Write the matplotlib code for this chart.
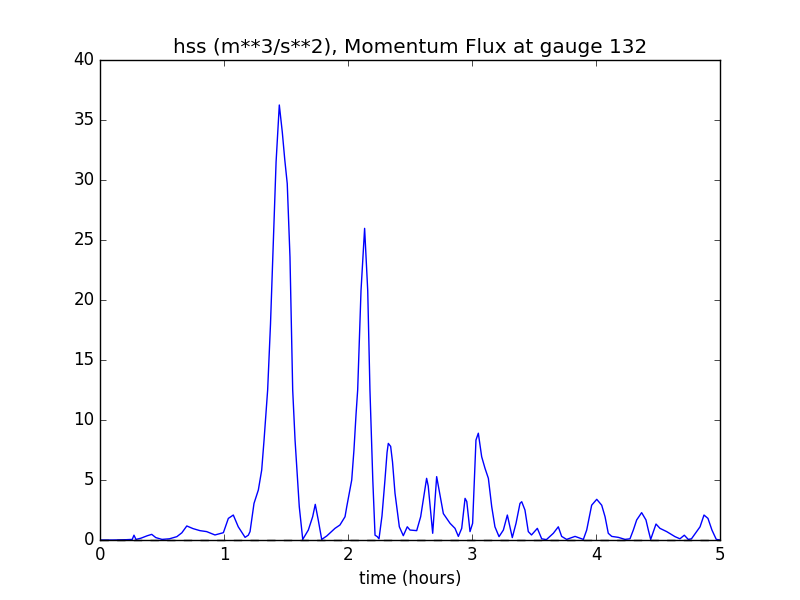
# Momentum flux at gauge 132 (hss), over time

import matplotlib
matplotlib.use('Agg')
import matplotlib.pyplot as plt

# time in hours
zeit = [0.0, 0.1, 0.2, 0.26, 0.274, 0.29, 0.33, 0.38, 0.417, 0.45, 0.5, 0.56, 0.62,
        0.66, 0.70, 0.75, 0.806, 0.86, 0.927, 0.995, 1.035, 1.075, 1.115, 1.17,
        1.196, 1.21, 1.242, 1.277, 1.304, 1.323, 1.352, 1.375, 1.398, 1.42, 1.446,
        1.47, 1.49, 1.51, 1.532, 1.554, 1.573, 1.607, 1.635, 1.68, 1.715, 1.736,
        1.76, 1.788, 1.828, 1.895, 1.935, 1.976, 1.99, 2.03, 2.048, 2.065, 2.078,
        2.105, 2.134, 2.159, 2.177, 2.2, 2.218, 2.236, 2.25, 2.274, 2.298, 2.315,
        2.325, 2.344, 2.359, 2.379, 2.414, 2.446, 2.478, 2.5, 2.554, 2.586, 2.634,
        2.647, 2.683, 2.715, 2.742, 2.769, 2.823, 2.863, 2.89, 2.917, 2.944, 2.958,
        2.984, 3.005, 3.032, 3.051, 3.078, 3.105, 3.132, 3.159, 3.185, 3.218,
        3.253, 3.285, 3.306, 3.325, 3.355, 3.387, 3.401, 3.427, 3.454, 3.48,
        3.527, 3.562, 3.6, 3.656, 3.696, 3.723, 3.763, 3.831, 3.898, 3.925,
        3.946, 3.965, 4.006, 4.046, 4.073, 4.099, 4.127, 4.18, 4.234, 4.274, 4.301,
        4.328, 4.368, 4.403, 4.422, 4.441, 4.484, 4.516, 4.57, 4.637, 4.677,
        4.712, 4.744, 4.77, 4.839, 4.871, 4.903, 4.935, 4.97, 5.0]

# hss (m**3/s**2)
hss = [0.0, 0.0, 0.02, 0.05, 0.4, 0.05, 0.15, 0.35, 0.47, 0.2, 0.05, 0.1, 0.28,
       0.6, 1.17, 0.95, 0.78, 0.7, 0.42, 0.61, 1.8, 2.08, 1.1, 0.22,
       0.4, 0.7, 3.05, 4.17, 5.83, 8.33, 12.5, 18.0, 25.0, 31.5, 36.25,
       34.0, 31.7, 29.7, 23.6, 12.5, 8.33, 2.78, 0.05, 0.83, 1.94, 2.97,
       1.67, 0.05, 0.33, 0.97, 1.25, 1.94, 2.78, 5.0, 7.5, 10.5, 12.5,
       20.8, 25.97, 20.8, 12.5, 5.0, 0.4, 0.28, 0.1, 2.0, 5.0, 7.3,
       8.05, 7.8, 6.5, 3.9, 1.1, 0.36, 1.1, 0.83, 0.78, 1.94, 5.14,
       4.5, 0.56, 5.28, 3.75, 2.2, 1.39, 0.97, 0.3, 0.97, 3.47, 3.2,
       0.7, 1.39, 8.33, 8.9, 6.94, 5.97, 5.14, 2.78, 1.1, 0.28,
       0.83, 2.08, 1.1, 0.2, 1.39, 3.05, 3.19, 2.5, 0.7, 0.42,
       0.97, 0.1, 0.03, 0.56, 1.1, 0.3, 0.05, 0.3, 0.05, 0.83,
       1.94, 2.9, 3.39, 2.9, 1.94, 0.56, 0.3, 0.22, 0.05, 0.1, 0.83,
       1.67, 2.28, 1.67, 0.83, 0.05, 1.33, 0.97, 0.7, 0.28, 0.1,
       0.4, 0.05, 0.1, 1.1, 2.08, 1.8, 0.83, 0.05, 0.0]

plt.style.use('classic')
fig, ax = plt.subplots(figsize=(8, 6), dpi=100)

ax.plot(zeit, hss, 'b-')
ax.plot([0, 5], [0, 0], 'k--', clip_on=False, zorder=3)  # Nulllinie

ax.set_xlim(0, 5)
ax.set_ylim(0, 40)
ax.set_title('hss (m**3/s**2), Momentum Flux at gauge 132')
ax.set_xlabel('time (hours)')

plt.savefig('out.png', dpi=100)
